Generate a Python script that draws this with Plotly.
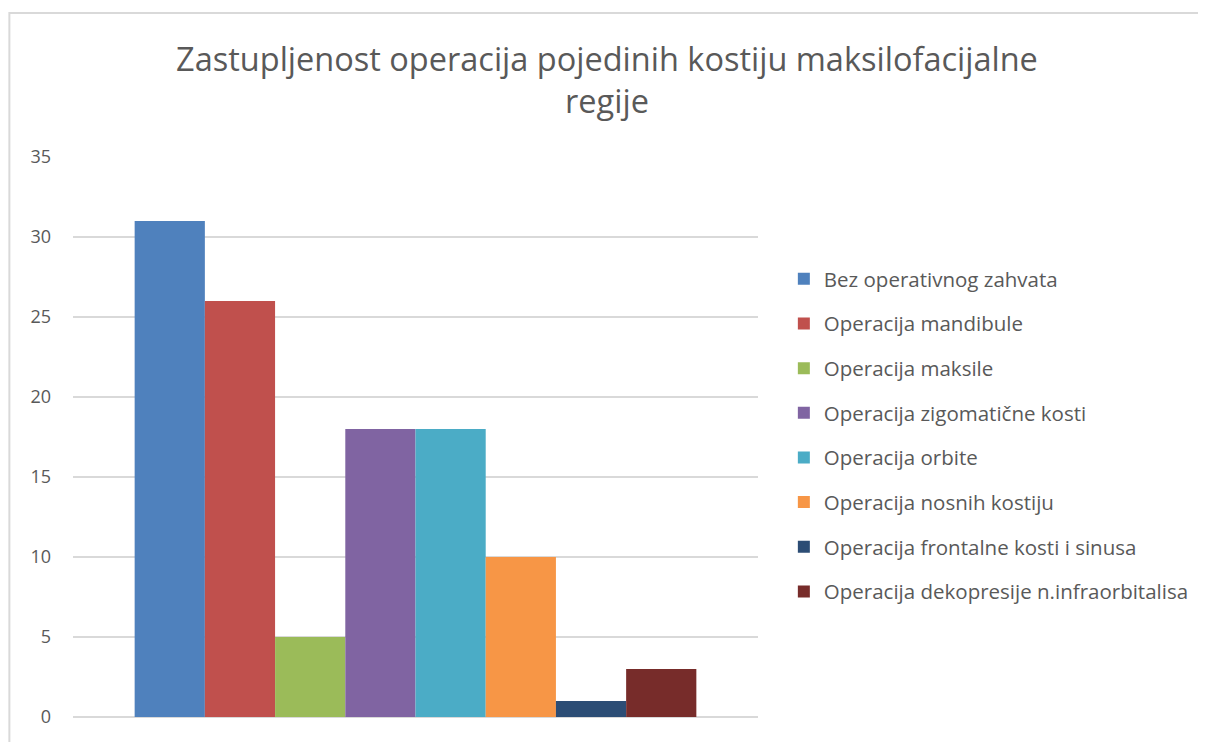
import plotly.graph_objects as go

# Podaci
kategorija = [""]
serije = [
    "Bez operativnog zahvata",
    "Operacija mandibule",
    "Operacija maksile",
    "Operacija zigomatične kosti",
    "Operacija orbite",
    "Operacija nosnih kostiju",
    "Operacija frontalne kosti i sinusa",
    "Operacija dekopresije n.infraorbitalisa",
]
vrijednosti = [31, 26, 5, 18, 18, 10, 1, 3]
boje = ["#4F81BD", "#C0504D", "#9BBB59", "#8064A2",
        "#4BACC6", "#F79646", "#2C4D75", "#772C2A"]
y_tickovi = [0, 5, 10, 15, 20, 25, 30, 35]

# stranica ima 8px margine, pa je figura malo manja
W, H = 1198, 734
L, R, T, B = 65, W - 754, 149, 25
pw, ph = W - L - R, H - T - B

fig = go.Figure()

for naziv, v, c in zip(serije, vrijednosti, boje):
    fig.add_trace(
        go.Bar(
            x=kategorija,
            y=[v],
            name=naziv,
            marker=dict(color=c, line=dict(width=0)),
            legendgroup=naziv,
        )
    )

# okvir grafikona (vidi se samo lijevi i gornji rub)
x_lijevo = (1 - L) / pw
x_desno = (W - L) / pw
y_gore = 1 + (T - 5) / ph
y_dolje = -B / ph
fig.add_shape(
    type="path", xref="paper", yref="paper",
    path=f"M {x_lijevo} {y_dolje} L {x_lijevo} {y_gore} L {x_desno} {y_gore}",
    line=dict(color="#D9D9D9", width=2),
    layer="below",
)

fig.update_layout(
    width=W,
    height=H,
    margin=dict(l=L, r=R, t=T, b=B),
    paper_bgcolor="white",
    plot_bgcolor="white",
    barmode="group",
    bargap=0.18,
    bargroupgap=0,
    title=dict(
        text="Zastupljenost operacija pojedinih kostiju maksilofacijalne<br>regije",
        x=0.5,
        xref="container",
        xanchor="center",
        y=1 - 63 / H,
        yanchor="middle",
        font=dict(family="Open Sans", size=32.5, color="#595959"),
    ),
    font=dict(family="Open Sans", color="#595959"),
    legend=dict(
        x=(780 - L) / pw,
        xanchor="left",
        y=1 - (251 - T) / ph,
        yanchor="top",
        font=dict(size=20.5, color="#595959"),
        tracegroupgap=15,
        bgcolor="rgba(0,0,0,0)",
    ),
    xaxis=dict(
        showticklabels=False,
        showgrid=False,
        showline=False,
        zeroline=False,
    ),
    yaxis=dict(
        range=[0, 35],
        tickvals=y_tickovi,
        showgrid=True,
        gridcolor="#D9D9D9",
        gridwidth=1.5,
        zeroline=True,
        zerolinecolor="#D9D9D9",
        zerolinewidth=1.5,
        showline=False,
        tickfont=dict(size=18, color="#595959"),
        ticklabelstandoff=21,
    ),
)

fig.write_html("out.html")
